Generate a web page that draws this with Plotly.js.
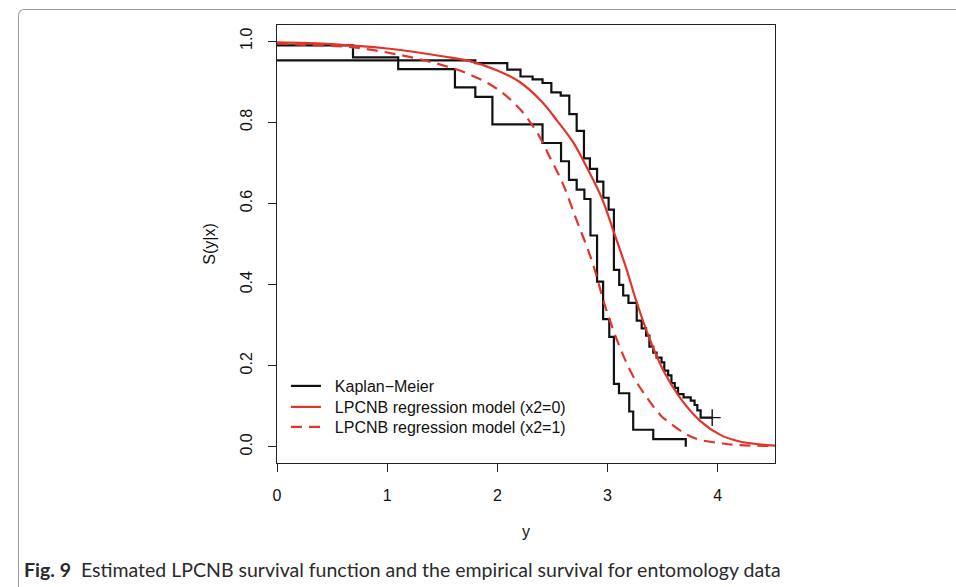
<!DOCTYPE html>
<html>
<head>
<meta charset="utf-8">
<script src="https://cdn.plot.ly/plotly-3.0.1.min.js"></script>
<style>
  html, body { margin: 0; padding: 0; background: #fff; }
  #wrap { position: relative; width: 956px; height: 587px; overflow: hidden; }
  #chart { position: absolute; left: 0; top: 0; width: 956px; height: 587px; }
  #frame { position: absolute; left: 18px; top: 9px; width: 980px; height: 620px;
           border-top: 1px solid #9a9a9a; border-left: 1px solid #9a9a9a;
           border-top-left-radius: 6px; pointer-events: none; }
</style>
</head>
<body>
<div id="wrap">
  <div id="chart"></div>
  <div id="frame"></div>
</div>
<script>
// Kaplan-Meier, group x2=0 (step function, censored at the end)
var km0_x = [0, 1.80, 2.09, 2.21, 2.32, 2.41, 2.49, 2.575, 2.653, 2.72, 2.786, 2.84, 2.905, 2.962, 3.01, 3.058, 3.106, 3.142, 3.19, 3.265, 3.31, 3.35, 3.38, 3.415, 3.445, 3.49, 3.515, 3.55, 3.58, 3.61, 3.64, 3.69, 3.755, 3.79, 3.815, 3.845, 3.95];
var km0_y = [0.953, 0.946, 0.930, 0.913, 0.906, 0.897, 0.874, 0.866, 0.820, 0.779, 0.711, 0.685, 0.654, 0.614, 0.585, 0.436, 0.399, 0.373, 0.355, 0.311, 0.292, 0.274, 0.247, 0.232, 0.220, 0.208, 0.188, 0.176, 0.157, 0.145, 0.130, 0.122, 0.114, 0.103, 0.090, 0.072, 0.072];
// Kaplan-Meier, group x2=1
var km1_x = [0, 0.69, 1.10, 1.615, 1.80, 1.955, 2.41, 2.578, 2.65, 2.72, 2.79, 2.845, 2.905, 2.96, 3.016, 3.058, 3.104, 3.197, 3.233, 3.415, 3.71];
var km1_y = [0.99, 0.960, 0.931, 0.886, 0.863, 0.795, 0.749, 0.704, 0.658, 0.634, 0.611, 0.521, 0.407, 0.315, 0.271, 0.155, 0.132, 0.087, 0.042, 0.019, 0.0];
// censored observation
var cens_x = [3.95];
var cens_y = [0.072];
// LPCNB regression model, x2=0
var fit0_x = [0, 0.5, 1.0, 1.5, 1.75, 2.0, 2.2, 2.4, 2.54, 2.69, 2.81, 2.95, 3.05, 3.17, 3.26, 3.385, 3.51, 3.66, 3.84, 4.02, 4.2, 4.38, 4.52];
var fit0_y = [0.997, 0.993, 0.982, 0.963, 0.951, 0.928, 0.900, 0.852, 0.805, 0.750, 0.690, 0.612, 0.535, 0.440, 0.360, 0.264, 0.186, 0.120, 0.064, 0.030, 0.013, 0.006, 0.003];
// LPCNB regression model, x2=1
var fit1_x = [0, 0.25, 0.69, 1.1, 1.45, 1.75, 2.0, 2.2, 2.36, 2.48, 2.6, 2.72, 2.81, 2.88, 2.98, 3.12, 3.23, 3.33, 3.48, 3.57, 3.72, 3.84, 4.05, 4.2, 4.52];
var fit1_y = [0.995, 0.991, 0.985, 0.967, 0.945, 0.918, 0.882, 0.834, 0.775, 0.712, 0.645, 0.558, 0.495, 0.440, 0.345, 0.240, 0.175, 0.132, 0.078, 0.058, 0.030, 0.017, 0.008, 0.004, 0.002];

var x_ticks = [0, 1, 2, 3, 4];
var y_ticks = [0, 0.2, 0.4, 0.6, 0.8, 1.0];
var y_tick_labels = ['0.0', '0.2', '0.4', '0.6', '0.8', '1.0'];
var legend_names = ['Kaplan\u2212Meier', 'LPCNB regression model (x2=0)', 'LPCNB regression model (x2=1)'];
var caption = '<b>Fig. 9</b>  Estimated LPCNB survival function and the empirical survival for entomology data';

var RED = '#e3342b';
var FONT = 'Liberation Sans, Arial, Helvetica, sans-serif';
var PAD = '\u00a0\u00a0';

var traces = [
  { x: km0_x, y: km0_y, type: 'scatter', mode: 'lines', line: { shape: 'hv', color: '#111', width: 2.2 },
    name: PAD + legend_names[0], legend: 'legend' },
  { x: km1_x, y: km1_y, type: 'scatter', mode: 'lines', line: { shape: 'hv', color: '#111', width: 2.2 },
    showlegend: false },
  { x: cens_x, y: cens_y, type: 'scatter', mode: 'markers',
    marker: { symbol: 'cross-thin-open', size: 12, color: '#111', line: { width: 1.4, color: '#111' } },
    showlegend: false },
  { x: fit0_x, y: fit0_y, type: 'scatter', mode: 'lines', line: { shape: 'spline', smoothing: 1, color: RED, width: 2.2 },
    name: PAD + legend_names[1], legend: 'legend2' },
  { x: fit1_x, y: fit1_y, type: 'scatter', mode: 'lines', line: { shape: 'spline', smoothing: 1, color: RED, width: 2.2, dash: '11px,7px' },
    name: PAD + legend_names[2], legend: 'legend3' }
];

var axisCommon = {
  showgrid: false, zeroline: false, showline: true, mirror: true,
  linecolor: '#222', linewidth: 1, ticks: 'outside', ticklen: 8, tickwidth: 1, tickcolor: '#222',
  tickfont: { family: FONT, size: 16, color: '#111' }
};

function legendAt(yPaper) {
  return {
    x: 0.018, y: yPaper, xanchor: 'left', yanchor: 'top',
    bgcolor: 'rgba(0,0,0,0)', borderwidth: 0, itemwidth: 30,
    font: { family: FONT, size: 16, color: '#111' }
  };
}

var layout = {
  width: 956, height: 587,
  margin: { l: 277, r: 181, t: 25, b: 124 },
  paper_bgcolor: '#fff', plot_bgcolor: '#fff',
  font: { family: FONT, size: 16, color: '#111' },
  showlegend: true,
  legend: legendAt(0.2146),
  legend2: legendAt(0.1667),
  legend3: legendAt(0.1210),
  xaxis: Object.assign({}, axisCommon, {
    range: [0, 4.52], tickvals: x_ticks, ticklabelstandoff: 10,
    title: { text: 'y', font: { family: FONT, size: 16, color: '#111' }, standoff: 22 }
  }),
  yaxis: Object.assign({}, axisCommon, {
    range: [-0.04, 1.04], tickvals: y_ticks, ticktext: y_tick_labels, tickangle: -90, ticklabelstandoff: 10,
    title: { text: 'S(y|x)', font: { family: FONT, size: 16, color: '#111' }, standoff: 17 }
  }),
  annotations: [
    { text: caption, xref: 'paper', yref: 'paper', x: -0.512, y: -0.244, xanchor: 'left', yanchor: 'middle',
      showarrow: false, font: { family: 'Lato, Open Sans, sans-serif', size: 19.5, color: '#2a2a2a' } }
  ]
};

Plotly.newPlot('chart', traces, layout, { displayModeBar: false, staticPlot: true });
</script>
</body>
</html>
